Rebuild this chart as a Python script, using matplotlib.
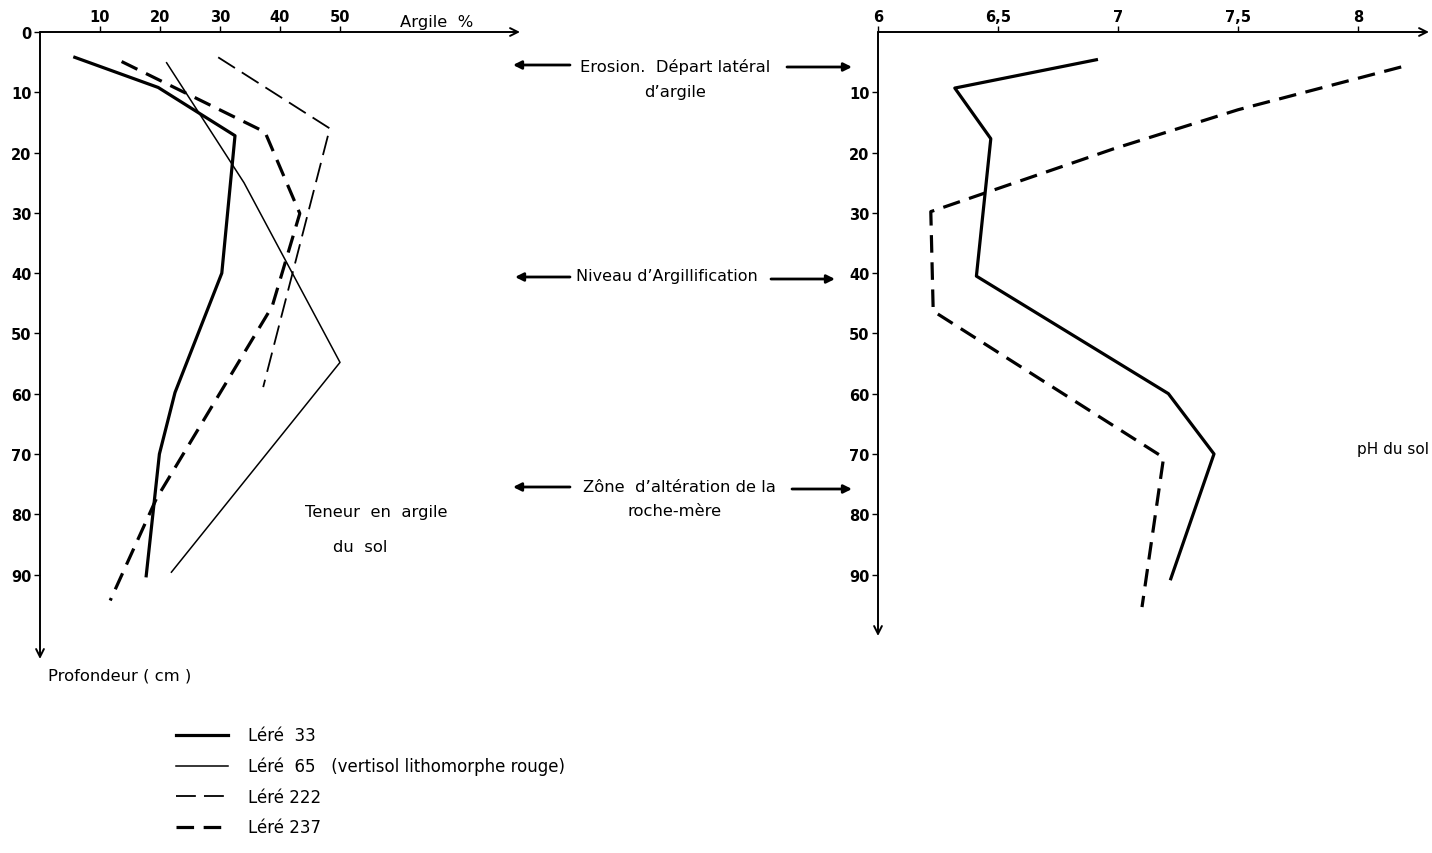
import matplotlib
matplotlib.use("Agg")
import matplotlib.pyplot as plt

# teneur en argile (%) selon la profondeur (cm)
clay_33 = [5.8, 19.7, 32.5, 30.3, 22.5, 19.9, 17.7]
depth_33 = [4.2, 9.2, 17.2, 40.0, 59.8, 70.0, 90.2]

clay_65 = [21.1, 34.0, 50.0, 21.9]
depth_65 = [5.1, 25.0, 54.8, 89.6]

clay_222 = [29.7, 48.3, 37.2]
depth_222 = [4.2, 16.0, 58.9]

clay_237 = [13.6, 37.5, 43.3, 38.7, 19.4, 11.7]
depth_237 = [4.9, 16.6, 30.1, 45.5, 77.4, 94.3]

# pH du sol
ph_33 = [6.91, 6.32, 6.47, 6.41, 7.21, 7.40, 7.22]
ph_depth_33 = [4.6, 9.3, 17.7, 40.5, 60.0, 70.0, 90.7]

ph_237 = [8.18, 7.50, 6.98, 6.22, 6.23, 7.19, 7.10]
ph_depth_237 = [5.8, 12.9, 19.4, 29.8, 46.3, 70.6, 95.4]

clay_ticks = [10, 20, 30, 40, 50]
depth_ticks = [0, 10, 20, 30, 40, 50, 60, 70, 80, 90]
ph_ticks = [6, 6.5, 7, 7.5, 8]
ph_labels = ["6", "6,5", "7", "7,5", "8"]
names = ["Léré  33", "Léré  65   (vertisol lithomorphe rouge)", "Léré 222", "Léré 237"]

plt.rcParams['font.family'] = 'DejaVu Sans'

W, H = 1432, 854
fig = plt.figure(figsize=(W / 100, H / 100), dpi=100)


def px_axes(x0, y0, x1, y1):
    return fig.add_axes([x0 / W, 1 - y1 / H, (x1 - x0) / W, (y1 - y0) / H])


def arrow_axes(ax):
    for s in ax.spines.values():
        s.set_visible(False)
    for xy in [(1, 1), (0, 0)]:
        ax.annotate("", xy=xy, xytext=(0, 1), xycoords="axes fraction",
                    arrowprops=dict(arrowstyle="->", lw=1.4, color="black",
                                    shrinkA=0, shrinkB=0, mutation_scale=14))


thick = dict(color="black", lw=2.3)
thin = dict(color="black", lw=1.1)

ax1 = px_axes(40, 33, 520, 660)
ax1.set_xlim(0, 80)
ax1.set_ylim(104, 0)
arrow_axes(ax1)
l33, = ax1.plot(clay_33, depth_33, **thick)
l65, = ax1.plot(clay_65, depth_65, **thin)
l222, = ax1.plot(clay_222, depth_222, color="black", lw=1.3, linestyle=(0, (11, 4.5)))
l237, = ax1.plot(clay_237, depth_237, color="black", lw=2.3, linestyle=(0, (5.5, 3)))
ax1.xaxis.tick_top()
ax1.set_xticks(clay_ticks)
ax1.set_yticks(depth_ticks)
ax1.tick_params(direction="out", length=4, width=1, pad=2, labelsize=10.5)
for t in ax1.get_xticklabels() + ax1.get_yticklabels():
    t.set_fontweight("bold")

ax2 = px_axes(878, 33, 1429, 637)
ax2.set_xlim(6, 6 + 551 / 240)
ax2.set_ylim(100.2, 0)
arrow_axes(ax2)
ax2.plot(ph_33, ph_depth_33, **thick)
ax2.plot(ph_237, ph_depth_237, color="black", lw=2.3, linestyle=(0, (5.5, 3)))
ax2.xaxis.tick_top()
ax2.set_xticks(ph_ticks)
ax2.set_xticklabels(ph_labels)
ax2.set_yticks(depth_ticks[1:])
ax2.tick_params(direction="out", length=4, width=1, pad=2, labelsize=10.5)
for t in ax2.get_xticklabels() + ax2.get_yticklabels():
    t.set_fontweight("bold")


def ftext(x, y, s, size=11.8, **kw):
    fig.text(x / W, 1 - y / H, s, fontsize=size, va="center", **kw)


def farrow(x0, x1, y):
    fig.add_artist(plt.Annotation("", xy=(x1 / W, 1 - y / H), xytext=(x0 / W, 1 - y / H),
                                  xycoords="figure fraction",
                                  arrowprops=dict(arrowstyle="-|>", lw=2, color="black",
                                                  shrinkA=0, shrinkB=0, mutation_scale=12)))


ftext(400, 22, "Argile  %")
ftext(48, 676, "Profondeur ( cm )")
ftext(305, 512, "Teneur  en  argile")
ftext(333, 548, "du  sol")
ftext(1429, 450, "pH du sol", size=11, ha="right")

ftext(580, 67, "Erosion.  Départ latéral")
ftext(675, 93, "d’argile", ha="center")
farrow(570, 513, 66)
farrow(787, 852, 68)

ftext(576, 276, "Niveau d’Argillification", size=11.5)
farrow(570, 515, 278)
farrow(771, 835, 280)

ftext(583, 488, "Zône  d’altération de la")
ftext(675, 512, "roche-mère", ha="center")
farrow(570, 513, 488)
farrow(792, 852, 490)

fig.legend(handles=[l33, l65, l222, l237], labels=names, loc="upper left",
           bbox_to_anchor=(168 / W, 1 - 719 / H), frameon=False, fontsize=12,
           handlelength=3.1, handletextpad=1.2, labelspacing=0.75, borderpad=0)

fig.savefig("out.png", dpi=100)
